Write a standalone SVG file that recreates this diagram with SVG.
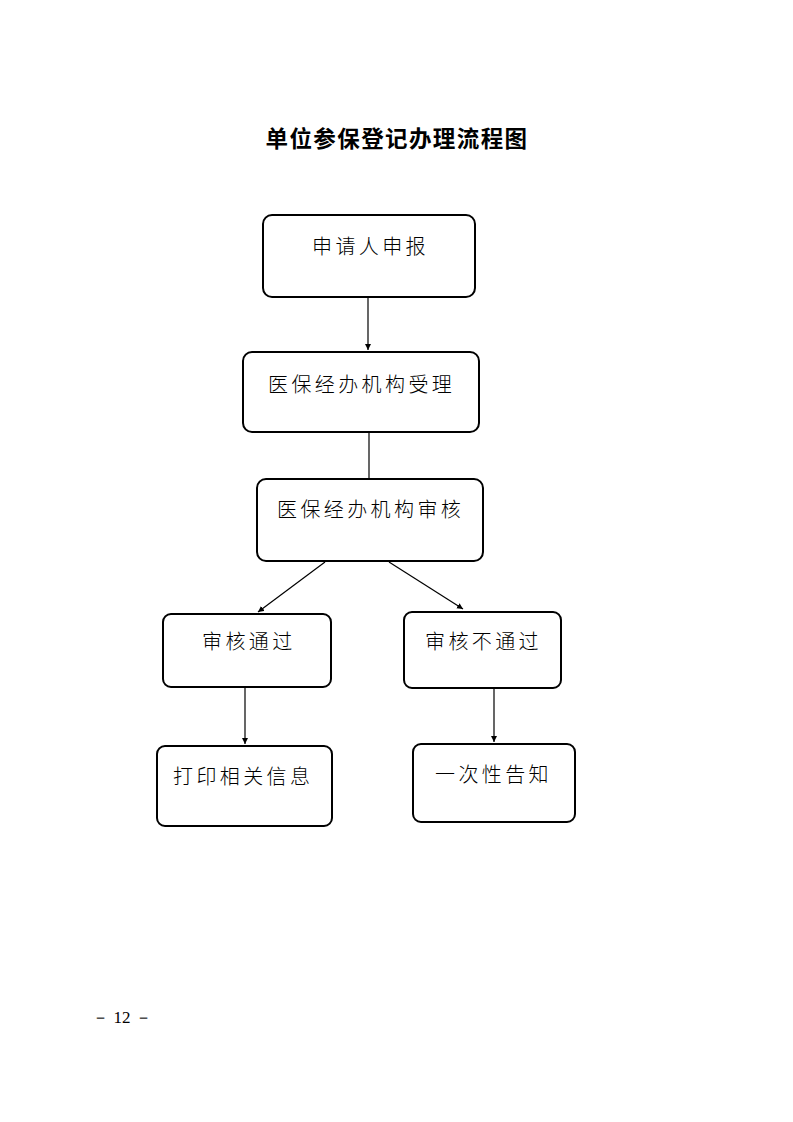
<svg xmlns="http://www.w3.org/2000/svg" width="793" height="1122" viewBox="0 0 793 1122">
<defs>
<marker id="ah" markerWidth="8" markerHeight="8" refX="6" refY="3" orient="auto" markerUnits="userSpaceOnUse">
<path d="M0,0 L6,3 L0,6 z" fill="#000"/>
</marker>
<style>
.box{fill:#fff;stroke:#000;stroke-width:2}
.t{font-family:"Noto Sans CJK SC","Noto Sans CJK JP",sans-serif;font-size:20px;font-weight:300;letter-spacing:3.4px;fill:#000}
.c{stroke:#000;stroke-width:1.2;fill:none}
</style>
</defs>
<rect width="793" height="1122" fill="#fff"/>
<text x="397" y="147" text-anchor="middle" font-family="'Noto Sans CJK SC',sans-serif" font-size="22.5" font-weight="bold" letter-spacing="1.4">单位参保登记办理流程图</text>
<g id="connectors">
<line class="c" x1="368" y1="297" x2="368" y2="350" marker-end="url(#ah)"/>
<line class="c" x1="369" y1="432" x2="369" y2="479"/>
<line class="c" x1="325" y1="562" x2="258" y2="612" marker-end="url(#ah)"/>
<line class="c" x1="389" y1="562" x2="463" y2="609" marker-end="url(#ah)"/>
<line class="c" x1="245" y1="688" x2="245" y2="744" marker-end="url(#ah)"/>
<line class="c" x1="494" y1="688" x2="494" y2="742" marker-end="url(#ah)"/>
</g>
<g id="n1"><rect class="box" x="263" y="215" width="212" height="82" rx="9"/><text class="t" x="312" y="254">申请人申报</text></g>
<g id="n2"><rect class="box" x="243" y="352" width="236" height="80" rx="9"/><text class="t" x="268" y="392">医保经办机构受理</text></g>
<g id="n3"><rect class="box" x="257" y="479" width="226" height="82" rx="9"/><text class="t" x="277" y="517">医保经办机构审核</text></g>
<g id="n4"><rect class="box" x="163" y="614" width="168" height="73" rx="8"/><text class="t" x="202" y="649">审核通过</text></g>
<g id="n5"><rect class="box" x="404" y="612" width="157" height="76" rx="8"/><text class="t" x="425" y="649">审核不通过</text></g>
<g id="n6"><rect class="box" x="157" y="746" width="175" height="80" rx="8"/><text class="t" x="173" y="784">打印相关信息</text></g>
<g id="n7"><rect class="box" x="413" y="744" width="162" height="78" rx="8"/><text class="t" x="435" y="782">一次性告知</text></g>
<text x="122" y="1023" text-anchor="middle" font-family="'Liberation Serif',serif" font-size="17">－ 12 －</text>
</svg>
